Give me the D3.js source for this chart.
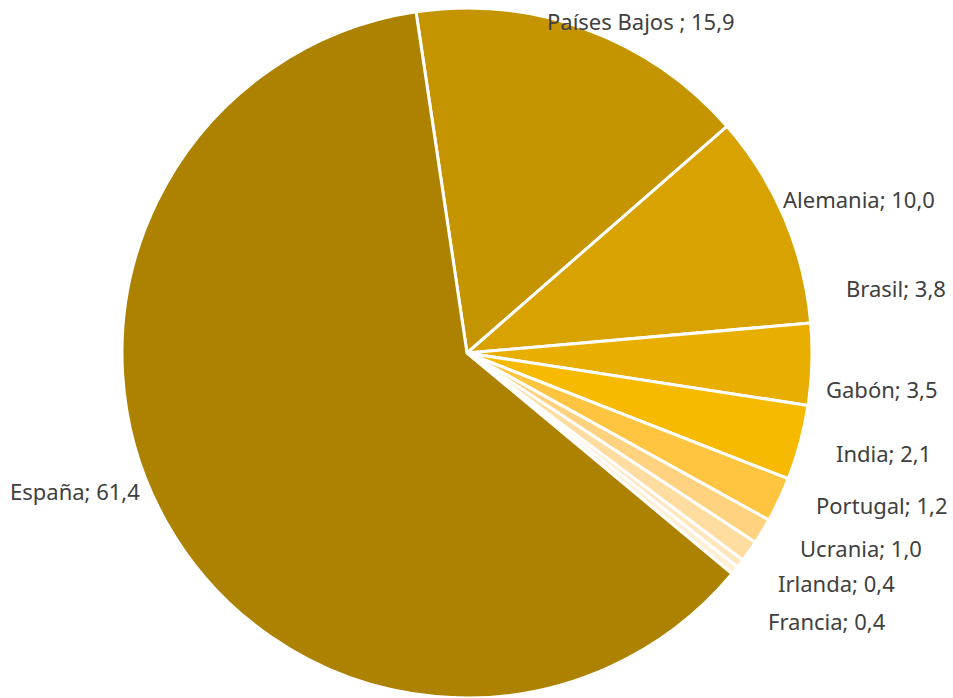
<!DOCTYPE html>
<html><head><meta charset="utf-8">
<script src="https://cdn.jsdelivr.net/npm/d3@7"></script>
<style>
html,body{margin:0;padding:0;background:#fff;}
svg{display:block;}
</style></head>
<body>
<svg id="chart" width="953" height="698"></svg>
<script>
// Data
const categories = ["Países Bajos ", "Alemania", "Brasil", "Gabón", "India", "Portugal", "Ucrania", "Irlanda", "Francia", "España"];
const values = [15.9, 10.0, 3.8, 3.5, 2.1, 1.2, 1.0, 0.4, 0.4, 61.4];
const valueLabels = ["15,9", "10,0", "3,8", "3,5", "2,1", "1,2", "1,0", "0,4", "0,4", "61,4"];

// Styling / layout
const colors = ["#C49500", "#D8A300", "#E8AE00", "#F7BA00", "#FFC540", "#FFD27F", "#FFDCA0", "#FFE6BE", "#FFEFD6", "#AD8200"];
// manually placed label anchors (offset from pie centre, px)
const labelOffsets = [[80,-332],[316,-154],[379,-65],[359,36],[369,100],[349,152],[333,195],[311,230],[301,268],[-457,138]];

const cx = 467, cy = 353, r = 345;
const svg = d3.select("#chart");
const g = svg.append("g").attr("transform", `translate(${cx},${cy})`);

const start = -8.5 * Math.PI / 180;
const pie = d3.pie().sort(null).value(d => d.v).startAngle(start).endAngle(start + 2 * Math.PI);
const data = categories.map((c, i) => ({c, v: values[i], l: valueLabels[i], i}));
const arcs = pie(data);
const arc = d3.arc().innerRadius(0).outerRadius(r);

g.selectAll("path").data(arcs).join("path")
  .attr("d", arc)
  .attr("fill", d => colors[d.data.i])
  .attr("stroke", "#fff")
  .attr("stroke-width", 3)
  .attr("stroke-linejoin", "round");

g.selectAll("text").data(arcs).join("text")
  .attr("x", d => labelOffsets[d.data.i][0])
  .attr("y", d => labelOffsets[d.data.i][1])
  .attr("dominant-baseline", "central")
  .attr("font-family", "'Noto Sans', 'Open Sans', sans-serif")
  .attr("font-size", 22)
  .attr("fill", "#404040")
  .text(d => `${d.data.c}; ${d.data.l}`);
</script>
</body></html>
